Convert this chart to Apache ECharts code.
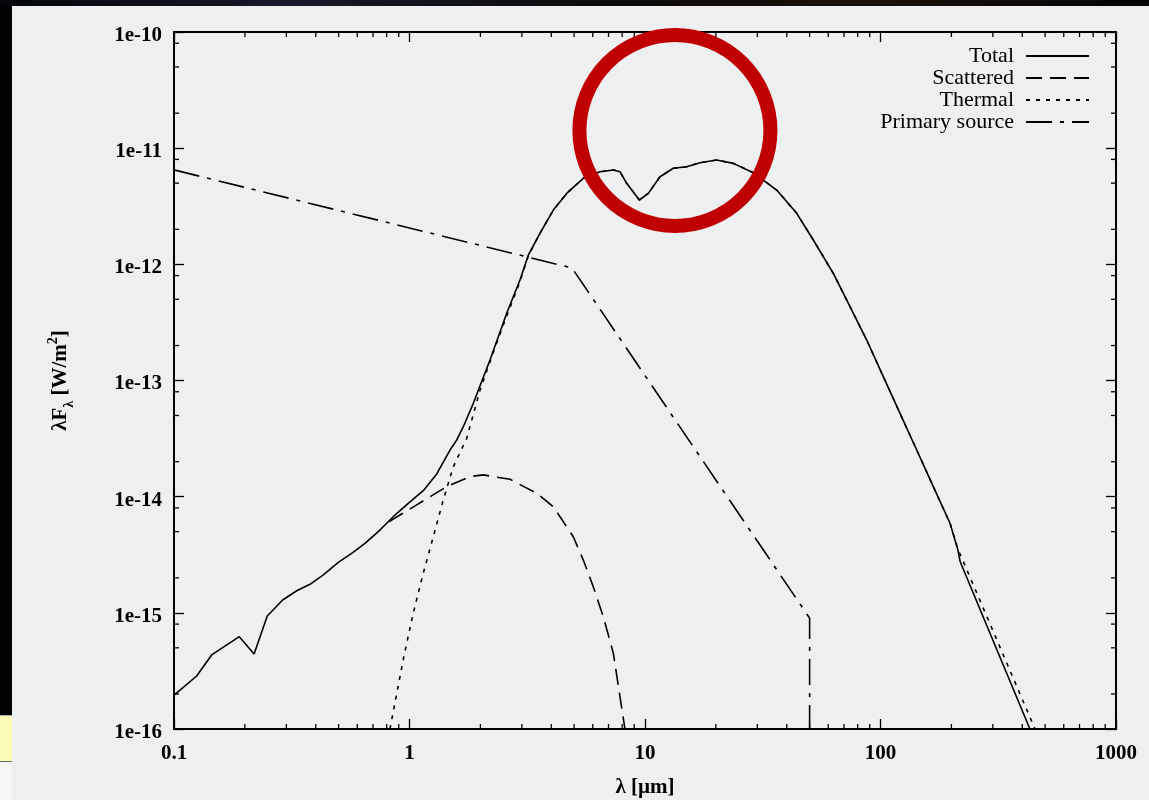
<!DOCTYPE html>
<html>
<head>
<meta charset="utf-8">
<script src="https://cdn.jsdelivr.net/npm/echarts@6/dist/echarts.min.js"></script>
<style>
  html, body { margin: 0; padding: 0; background: #eeeff1; overflow: hidden; }
  #chart { position: absolute; left: 0; top: 0; width: 1149px; height: 800px; }
  .edge-left { position: absolute; left: 0; top: 0; width: 12px; height: 715px; background: #020205; }
  .edge-top { position: absolute; left: 0; top: 0; width: 1149px; height: 6px;
              background: linear-gradient(90deg, #04050b, #141a2a 25%, #0d0b09 55%, #1a120c 75%, #050505); }
  .edge-note { position: absolute; left: 0; top: 715px; width: 12px; height: 45px; background: #fbfab6;
               border-top: 1px solid #aaa; border-bottom: 1px solid #666; }
  .edge-paper { position: absolute; left: 0; top: 762px; width: 12px; height: 38px; background: #f6f6f6; }
</style>
</head>
<body>
<div class="edge-left"></div>
<div class="edge-top"></div>
<div class="edge-note"></div>
<div class="edge-paper"></div>
<div id="chart"></div>
<script>
// Spectral energy distribution: wavelength in micron, lambda*F_lambda in W/m^2
const totalWl = [0.100, 0.1095, 0.1248, 0.1445, 0.1894, 0.2188, 0.2489, 0.2893, 0.332, 0.378,
  0.4306, 0.4984, 0.568, 0.647, 0.749, 0.853, 0.988, 1.144, 1.305, 1.486, 1.586, 1.692, 1.866,
  2.197, 2.587, 2.945, 3.195, 3.58, 4.08, 4.65, 5.47, 6.44, 7.34, 7.83, 8.36, 9.46, 10.33, 11.58,
  13.19, 15.03, 17.12, 20.16, 23.71, 28.84, 36.24, 44.08, 51.84, 63.04, 74.23, 87.38, 102.8,
  121.0, 142.5, 167.6, 197.3, 213, 218, 431];
const totalFlux = [1.96e-16, 2.28e-16, 2.86e-16, 4.34e-16, 6.23e-16, 4.42e-16, 9.39e-16, 1.29e-15,
  1.55e-15, 1.76e-15, 2.12e-15, 2.72e-15, 3.25e-15, 3.96e-15, 5.16e-15, 6.72e-15, 8.77e-15,
  1.125e-14, 1.57e-14, 2.52e-14, 3.07e-14, 4.0e-14, 6.36e-14, 1.50e-13, 3.79e-13, 7.33e-13,
  1.20e-12, 1.85e-12, 2.93e-12, 4.08e-12, 5.50e-12, 6.27e-12, 6.49e-12, 6.27e-12, 4.98e-12,
  3.58e-12, 4.08e-12, 5.68e-12, 6.71e-12, 6.92e-12, 7.49e-12, 7.91e-12, 7.40e-12, 6.15e-12,
  4.36e-12, 2.75e-12, 1.62e-12, 8.37e-13, 4.32e-13, 2.23e-13, 1.08e-13, 5.22e-14, 2.52e-14,
  1.22e-14, 5.90e-15, 3.50e-15, 2.75e-15, 1.0e-16];

const scatteredWl = [0.82, 1.073, 1.438, 1.807, 2.058, 2.672, 3.468, 4.08, 4.96, 5.47, 6.03,
  6.65, 7.34, 7.83, 8.25];
const scatteredFlux = [6.1e-15, 8.5e-15, 1.22e-14, 1.49e-14, 1.54e-14, 1.41e-14, 1.07e-14,
  8.2e-15, 4.52e-15, 2.85e-15, 1.68e-15, 9.26e-16, 4.48e-16, 1.90e-16, 9.5e-17];

const thermalWl = [0.826, 0.946, 1.037, 1.144, 1.262, 1.391, 1.535, 1.75, 1.993, 2.269, 2.587,
  2.945, 3.195, 3.58, 4.08, 4.65, 5.47, 6.44, 7.34, 7.83, 8.36, 9.46, 10.33, 11.58, 13.19, 15.03,
  17.12, 20.16, 23.71, 28.84, 36.24, 44.08, 51.84, 63.04, 74.23, 87.38, 102.8, 121.0, 142.5,
  167.6, 197.3, 213, 218, 453];
const thermalFlux = [1.0e-16, 4.19e-16, 9.9e-16, 2.19e-15, 4.52e-15, 9.36e-15, 1.81e-14,
  3.18e-14, 8.28e-14, 1.75e-13, 3.6e-13, 7.1e-13, 1.18e-12, 1.85e-12, 2.93e-12, 4.08e-12,
  5.50e-12, 6.27e-12, 6.49e-12, 6.27e-12, 4.98e-12, 3.58e-12, 4.08e-12, 5.68e-12, 6.71e-12,
  6.92e-12, 7.49e-12, 7.91e-12, 7.40e-12, 6.15e-12, 4.36e-12, 2.75e-12, 1.62e-12, 8.37e-13,
  4.32e-13, 2.23e-13, 1.08e-13, 5.22e-14, 2.52e-14, 1.22e-14, 5.90e-15, 3.55e-15, 3.19e-15, 1.0e-16];

const primaryWl = [0.1, 4.9, 50, 50];
const primaryFlux = [6.5e-12, 9.3e-13, 9.0e-16, 1.0e-17];

const seriesNames = ['Total', 'Scattered', 'Thermal', 'Primary source'];

// Axis ranges and minor tick positions
const X_MIN = 0.1, X_MAX = 1000;
const Y_MIN = 1e-16, Y_MAX = 1e-10;
const xDecades = [0.1, 1, 10, 100];
const xMinorSteps = [2, 3, 4, 5, 6, 7, 8, 9];
const yDecades = [1e-16, 1e-15, 1e-14, 1e-13, 1e-12, 1e-11];
const yMinorSteps = [2, 5, 8];

const SERIF = '"Liberation Serif", "DejaVu Serif", serif';
const INK = '#000';
const MAJOR_LEN = 10, MINOR_LEN = 5;

const zip = (xs, ys) => xs.map((x, i) => [x, ys[i]]);
const xMinor = [];
xDecades.forEach(d => xMinorSteps.forEach(s => xMinor.push([d * s, Y_MIN])));
const yMinor = [];
yDecades.forEach(d => yMinorSteps.forEach(s => yMinor.push([X_MIN, d * s])));

const xLabel = v => {
  const e = Math.round(Math.log10(v));
  return e < 0 ? '0.' + '0'.repeat(-e - 1) + '1' : '1' + '0'.repeat(e);
};
const yLabel = v => '{v|1e' + Math.round(Math.log10(v)) + '}';

const tickStyle = { stroke: INK, lineWidth: 1.3 };

function renderXMinor(params, api) {
  const v = api.value(0);
  const b = api.coord([v, Y_MIN]);
  const t = api.coord([v, Y_MAX]);
  return { type: 'group', children: [
    { type: 'line', shape: { x1: b[0], y1: b[1], x2: b[0], y2: b[1] - MINOR_LEN }, style: tickStyle },
    { type: 'line', shape: { x1: t[0], y1: t[1], x2: t[0], y2: t[1] + MINOR_LEN }, style: tickStyle }
  ]};
}
function renderYMinor(params, api) {
  const v = api.value(1);
  const l = api.coord([X_MIN, v]);
  const r = api.coord([X_MAX, v]);
  return { type: 'group', children: [
    { type: 'line', shape: { x1: l[0], y1: l[1], x2: l[0] + MINOR_LEN, y2: l[1] }, style: tickStyle },
    { type: 'line', shape: { x1: r[0], y1: r[1], x2: r[0] - MINOR_LEN, y2: r[1] }, style: tickStyle }
  ]};
}

const axisCommon = {
  type: 'log', logBase: 10,
  axisLine: { show: false },
  splitLine: { show: false },
  axisTick: { show: true, inside: true, length: MAJOR_LEN, lineStyle: { color: INK, width: 1.3 } }
};
const labelFont = { fontFamily: SERIF, fontSize: 21, fontWeight: 'bold', color: INK };

const lineSeries = (name, data, dash) => ({
  name, type: 'line', data, symbol: 'none', showSymbol: false, color: INK,
  smooth: false, animation: false, z: 3,
  lineStyle: { color: INK, width: 1.6, type: dash }
});

const chart = echarts.init(document.getElementById('chart'), null, { renderer: 'canvas' });
chart.setOption({
  backgroundColor: 'transparent',
  animation: false,
  grid: { left: 174, top: 32, right: 33, bottom: 71, show: true, outerBoundsMode: 'none',
          containLabel: false, borderColor: INK, borderWidth: 2, backgroundColor: 'transparent' },
  legend: {
    data: seriesNames, orient: 'vertical', align: 'right', right: 54, top: 40,
    itemWidth: 63, itemHeight: 12, itemGap: 0, selectedMode: false,
    itemStyle: { color: 'transparent', borderWidth: 0, opacity: 0 },
    textStyle: { fontFamily: SERIF, fontSize: 22, color: INK, lineHeight: 22, padding: [0, 7, 0, 0] }
  },
  xAxis: [
    Object.assign({}, axisCommon, {
      position: 'bottom', min: X_MIN, max: X_MAX,
      name: 'λ [µm]', nameLocation: 'middle', nameGap: 48,
      nameTextStyle: { fontFamily: SERIF, fontSize: 21, fontWeight: 'bold', color: INK },
      axisLabel: Object.assign({ margin: 14, formatter: xLabel, showMinLabel: true, showMaxLabel: true }, labelFont)
    }),
    Object.assign({}, axisCommon, {
      position: 'top', min: X_MIN, max: X_MAX, axisLabel: { show: false }
    })
  ],
  yAxis: [
    Object.assign({}, axisCommon, {
      position: 'left', min: Y_MIN, max: Y_MAX,
      name: '{m|λF}{sub|λ}{m| [W/m}{sup|2}{m|]}', nameLocation: 'middle', nameGap: 98, nameRotate: 90,
      nameTextStyle: {
        color: INK,
        rich: {
          m: { fontFamily: SERIF, fontSize: 21, fontWeight: 'bold', color: INK, lineHeight: 30, verticalAlign: 'middle' },
          sub: { fontFamily: SERIF, fontSize: 14, fontWeight: 'bold', color: INK, lineHeight: 14, verticalAlign: 'bottom' },
          sup: { fontFamily: SERIF, fontSize: 14, fontWeight: 'bold', color: INK, lineHeight: 14, verticalAlign: 'top' }
        }
      },
      axisLabel: Object.assign({
        margin: 12, formatter: yLabel, showMinLabel: true, showMaxLabel: true,
        rich: { v: Object.assign({ padding: [7, 0, 0, 0] }, labelFont) }
      }, labelFont)
    }),
    Object.assign({}, axisCommon, {
      position: 'right', min: Y_MIN, max: Y_MAX, axisLabel: { show: false }
    })
  ],
  series: [
    lineSeries('Total', zip(totalWl, totalFlux), 'solid'),
    lineSeries('Scattered', zip(scatteredWl, scatteredFlux), [16, 8]),
    lineSeries('Thermal', zip(thermalWl, thermalFlux), [4, 6]),
    lineSeries('Primary source', zip(primaryWl, primaryFlux), [26, 8, 4, 8]),
    { type: 'custom', name: 'x-minor', data: xMinor, renderItem: renderXMinor, clip: false, silent: true, z: 4 },
    { type: 'custom', name: 'y-minor', data: yMinor, renderItem: renderYMinor, clip: false, silent: true, z: 4 }
  ]
});

// Highlight ring around the silicate feature near 10 micron
const ringCenter = chart.convertToPixel({ gridIndex: 0 }, [13.4, 1.42e-11]);
chart.setOption({
  graphic: [{
    type: 'circle', z: 10, silent: true,
    shape: { cx: ringCenter[0], cy: ringCenter[1], r: 95.5 },
    style: { fill: 'none', stroke: '#c00000', lineWidth: 14 }
  }]
});
</script>
</body>
</html>
